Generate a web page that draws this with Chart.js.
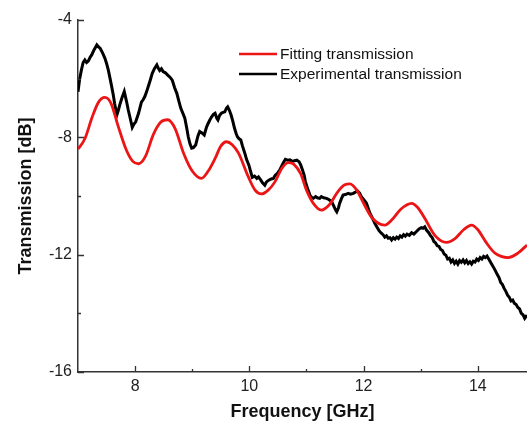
<!DOCTYPE html>
<html lang="en">
<head>
  <meta charset="UTF-8" />
  <title>Transmission</title>
  <script src="https://cdn.jsdelivr.net/npm/chart.js"></script>
  <style>
    html, body { margin: 0; padding: 0; background: #fff; }
    #wrap { width: 527px; height: 423px; }
  </style>
</head>
<body>
  <div id="wrap"><canvas id="chart"></canvas></div>

  <script>
    // Fitting transmission (red)
    const fitFreq = [7.00, 7.12, 7.25, 7.36, 7.47, 7.58, 7.70, 7.85, 7.96, 8.06, 8.18, 8.32, 8.45, 8.57, 8.70, 8.85,
      9.00, 9.16, 9.28, 9.40, 9.50, 9.60, 9.70, 9.81, 9.98, 10.10, 10.21, 10.33, 10.45, 10.57, 10.68, 10.78,
      10.90, 11.00, 11.12, 11.26, 11.40, 11.55, 11.67, 11.76, 11.88, 12.00, 12.15, 12.37, 12.50, 12.65, 12.84,
      12.95, 13.07, 13.25, 13.45, 13.60, 13.75, 13.89, 14.00, 14.15, 14.30, 14.53, 14.70, 14.86];
    const fitDb = [-8.40, -8.05, -7.30, -6.80, -6.64, -6.85, -7.60, -8.45, -8.82, -8.90, -8.65, -7.90, -7.48, -7.40, -7.70, -8.55,
      -9.15, -9.40, -9.15, -8.72, -8.30, -8.15, -8.25, -8.54, -9.34, -9.80, -9.93, -9.80, -9.51, -9.05, -8.86, -8.92,
      -9.25, -9.80, -10.25, -10.48, -10.30, -9.85, -9.62, -9.59, -9.80, -10.25, -10.75, -10.99, -10.80, -10.45, -10.25,
      -10.40, -10.76, -11.35, -11.58, -11.45, -11.15, -10.99, -11.15, -11.60, -11.95, -12.10, -11.95, -11.67];

    // Experimental transmission (black)
    const expFreq = [7.00, 7.03, 7.06, 7.09, 7.12, 7.15, 7.18, 7.21, 7.24, 7.28, 7.33, 7.36, 7.39, 7.43, 7.47, 7.50,
      7.53, 7.56, 7.59, 7.62, 7.64, 7.68, 7.71, 7.73, 7.77, 7.81, 7.85, 7.88, 7.92, 7.95, 7.98, 8.01, 8.06, 8.09,
      8.11, 8.14, 8.17, 8.20, 8.23, 8.27, 8.30, 8.34, 8.38, 8.40, 8.43, 8.46, 8.49, 8.53, 8.57, 8.61, 8.65, 8.69,
      8.73, 8.77, 8.80, 8.84, 8.87, 8.90, 8.93, 8.96, 8.99, 9.02, 9.06, 9.10, 9.13, 9.17, 9.21, 9.25, 9.28, 9.31,
      9.34, 9.37, 9.40, 9.43, 9.45, 9.48, 9.51, 9.54, 9.57, 9.60, 9.62, 9.65, 9.68, 9.71, 9.74, 9.77, 9.79, 9.82,
      9.85, 9.88, 9.92, 9.95, 9.99, 10.02, 10.05, 10.09, 10.13, 10.16, 10.20, 10.23, 10.27, 10.30, 10.34, 10.38,
      10.42, 10.45, 10.49, 10.53, 10.56, 10.60, 10.63, 10.67, 10.71, 10.75, 10.79, 10.83, 10.87, 10.90, 10.93,
      10.96, 10.98, 11.02, 11.06, 11.09, 11.12, 11.16, 11.19, 11.23, 11.26, 11.30, 11.35, 11.39, 11.44, 11.48,
      11.51, 11.53, 11.56, 11.58, 11.61, 11.64, 11.68, 11.73, 11.77, 11.82, 11.86, 11.89, 11.93, 11.96, 12.00,
      12.05, 12.08, 12.11, 12.14, 12.17, 12.20, 12.23, 12.27, 12.31, 12.34, 12.37, 12.40, 12.43, 12.46, 12.49,
      12.52, 12.55, 12.58, 12.61, 12.64, 12.67, 12.70, 12.73, 12.76, 12.80, 12.84, 12.88, 12.93, 12.97, 13.01,
      13.04, 13.07, 13.10, 13.14, 13.17, 13.20, 13.23, 13.26, 13.29, 13.32, 13.35, 13.38, 13.41, 13.44, 13.47,
      13.50, 13.53, 13.56, 13.59, 13.62, 13.65, 13.68, 13.71, 13.74, 13.77, 13.80, 13.83, 13.86, 13.89, 13.92,
      13.95, 13.98, 14.01, 14.04, 14.07, 14.10, 14.13, 14.16, 14.19, 14.22, 14.25, 14.28, 14.31, 14.34, 14.37,
      14.40, 14.43, 14.46, 14.49, 14.52, 14.55, 14.58, 14.61, 14.64, 14.67, 14.70, 14.73, 14.76, 14.79, 14.82, 14.86];
    const expDb = [-6.45, -6.00, -5.70, -5.45, -5.36, -5.45, -5.40, -5.28, -5.19, -5.02, -4.85, -4.92, -4.97, -5.12, -5.30, -5.48,
      -5.70, -5.98, -6.27, -6.58, -6.84, -7.24, -7.05, -6.90, -6.65, -6.44, -6.78, -7.07, -7.40, -7.66, -7.55, -7.47, -7.18, -6.95,
      -6.80, -6.72, -6.61, -6.45, -6.27, -6.02, -5.82, -5.65, -5.53, -5.62, -5.72, -5.66, -5.76, -5.80, -5.88, -5.95, -6.05, -6.30,
      -6.50, -6.80, -7.01, -7.20, -7.35, -7.65, -7.98, -8.22, -8.37, -8.35, -8.26, -7.95, -7.80, -7.85, -7.92, -7.65, -7.52, -7.40,
      -7.30, -7.22, -7.18, -7.35, -7.41, -7.25, -7.18, -7.15, -7.13, -7.00, -6.96, -7.08, -7.24, -7.45, -7.69, -7.88, -7.98, -8.05,
      -8.09, -8.30, -8.54, -8.75, -8.94, -9.15, -9.36, -9.32, -9.40, -9.35, -9.46, -9.55, -9.63, -9.52, -9.46, -9.42,
      -9.40, -9.30, -9.23, -9.12, -9.00, -8.85, -8.75, -8.78, -8.77, -8.82, -8.80, -8.78, -8.83, -8.95, -9.11,
      -9.30, -9.51, -9.75, -9.97, -10.05, -10.08, -10.02, -10.06, -10.08, -10.02, -10.06, -10.08, -10.12, -10.19, -10.35,
      -10.48, -10.54, -10.40, -10.25, -10.10, -9.97, -9.95, -9.91, -9.94, -9.91, -9.86, -9.82, -9.90, -10.02, -10.12,
      -10.25, -10.42, -10.59, -10.70, -10.82, -10.95, -11.05, -11.18, -11.27, -11.32, -11.40, -11.36, -11.44, -11.42, -11.50,
      -11.42, -11.47, -11.40, -11.45, -11.36, -11.40, -11.32, -11.37, -11.30, -11.34, -11.25, -11.30, -11.20, -11.12, -11.08,
      -11.10, -11.05, -11.16, -11.25, -11.35, -11.42, -11.55, -11.60, -11.70, -11.72, -11.82, -11.86, -11.98, -12.02, -12.15,
      -12.12, -12.25, -12.18, -12.30, -12.22, -12.32, -12.20, -12.26, -12.18, -12.28, -12.20, -12.30, -12.24, -12.32, -12.22,
      -12.25, -12.15, -12.20, -12.10, -12.15, -12.06, -12.10, -12.05, -12.15, -12.25, -12.35, -12.45, -12.56, -12.68, -12.78,
      -12.95, -13.02, -13.15, -13.25, -13.38, -13.45, -13.58, -13.55, -13.66, -13.70, -13.80, -13.85, -14.00, -14.05, -14.17, -14.06];

    const xTicks = [8, 9, 10, 11, 12, 13, 14];
    const yTicks = [-16, -14, -12, -10, -8, -6, -4];
    const xLabeled = [8, 10, 12, 14];
    const yLabeled = [-16, -12, -8, -4];

    const toPoints = (xs, ys) => xs.map((x, i) => ({ x: x, y: ys[i] }));

    // inward tick marks, long on labeled values, short on the others
    const tickMarks = {
      id: "tickMarks",
      afterDraw(chart) {
        const ctx = chart.ctx;
        const xs = chart.scales.x, ys = chart.scales.y;
        const area = chart.chartArea;
        ctx.save();
        ctx.strokeStyle = "#333";
        ctx.lineWidth = 1.3;
        ctx.beginPath();
        xTicks.forEach(v => {
          const px = Math.round(xs.getPixelForValue(v)) + 0.5;
          const len = xLabeled.includes(v) ? 6 : 3;
          ctx.moveTo(px, area.bottom);
          ctx.lineTo(px, area.bottom - len);
        });
        yTicks.forEach(v => {
          const py = Math.round(ys.getPixelForValue(v)) + 0.5;
          const len = yLabeled.includes(v) ? 6 : 3;
          ctx.moveTo(area.left, py);
          ctx.lineTo(area.left + len, py);
        });
        ctx.stroke();
        ctx.restore();
      }
    };

    // legend inside the plot, upper right
    const innerLegend = {
      id: "innerLegend",
      afterDraw(chart) {
        const ctx = chart.ctx;
        ctx.save();
        ctx.font = "15.5px 'Liberation Sans', Arial, sans-serif";
        ctx.textBaseline = "middle";
        ctx.textAlign = "left";
        chart.data.datasets.forEach((ds, i) => {
          const y = 54 + i * 20;
          ctx.strokeStyle = ds.borderColor;
          ctx.lineWidth = 2.5;
          ctx.beginPath();
          ctx.moveTo(239, y);
          ctx.lineTo(277, y);
          ctx.stroke();
          ctx.fillStyle = "#111";
          ctx.fillText(ds.label, 280, y + 1);
        });
        ctx.restore();
      }
    };

    new Chart(document.getElementById("chart"), {
      type: "line",
      data: {
        datasets: [
          {
            label: "Fitting transmission",
            data: toPoints(fitFreq, fitDb),
            borderColor: "#ec1515",
            borderWidth: 2.8,
            pointRadius: 0,
            cubicInterpolationMode: "monotone"
          },
          {
            label: "Experimental transmission",
            data: toPoints(expFreq, expDb),
            borderColor: "#000000",
            borderWidth: 3,
            pointRadius: 0,
            tension: 0
          }
        ]
      },
      plugins: [tickMarks, innerLegend],
      options: {
        responsive: true,
        maintainAspectRatio: false,
        animation: false,
        layout: { padding: { top: 20, right: 0, left: 0, bottom: 0 } },
        plugins: {
          legend: { display: false },
          tooltip: { enabled: false }
        },
        scales: {
          x: {
            type: "linear",
            min: 7,
            max: 14.86,
            afterFit: s => { s.height = 51; },
            afterBuildTicks: s => { s.ticks = xTicks.map(v => ({ value: v })); },
            grid: { display: false, drawTicks: false, tickLength: 0 },
            border: { display: true, color: "#333", width: 1.5 },
            ticks: {
              color: "#222",
              padding: 5,
              maxRotation: 0,
              autoSkip: false,
              font: { family: "'Liberation Sans', Arial, sans-serif", size: 16 },
              callback: v => xLabeled.includes(v) ? String(v) : ""
            },
            title: {
              display: true,
              text: "Frequency [GHz]",
              color: "#111",
              padding: { top: 0, bottom: 0 },
              font: { family: "'Liberation Sans', Arial, sans-serif", size: 18, weight: "bold" }
            }
          },
          y: {
            type: "linear",
            min: -16,
            max: -4,
            afterFit: s => { s.width = 78; },
            afterBuildTicks: s => { s.ticks = yTicks.map(v => ({ value: v })); },
            grid: { display: false, drawTicks: false, tickLength: 0 },
            border: { display: true, color: "#333", width: 1.5 },
            ticks: {
              color: "#222",
              padding: 6,
              autoSkip: false,
              font: { family: "'Liberation Sans', Arial, sans-serif", size: 16 },
              callback: v => yLabeled.includes(v) ? String(v) : ""
            },
            title: {
              display: true,
              text: "Transmission [dB]",
              color: "#111",
              padding: { top: 15, bottom: 0 },
              font: { family: "'Liberation Sans', Arial, sans-serif", size: 18, weight: "bold" }
            }
          }
        }
      }
    });
  </script>
</body>
</html>
